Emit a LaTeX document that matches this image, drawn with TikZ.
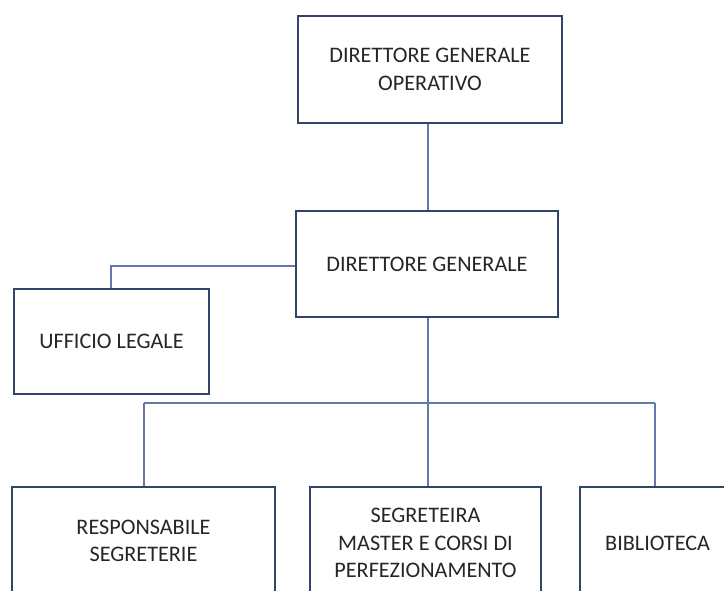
\documentclass[tikz,border=0pt]{standalone}
\usepackage{fontspec}
\setmainfont{Carlito}
\definecolor{boxline}{HTML}{34436A}
\definecolor{conn}{HTML}{6478AC}
\begin{document}
\begin{tikzpicture}[x=1pt,y=-1pt,
  orgbox/.style={draw=boxline,line width=2pt,fill=white,inner sep=0pt,
    font=\fontsize{22.2}{27.5}\selectfont,text=black!85,align=center},
  lbl/.style={font=\fontsize{22.2}{27.5}\selectfont,text=black!85,align=center,inner sep=0pt},
  link/.style={draw=conn,line width=1.3pt}]
\clip (0,0) rectangle (724,590);
\fill[white] (0,0) rectangle (724,590);
% boxes
\node[orgbox,minimum width=264pt,minimum height=107pt] (dgo) at (430,69.5) {DIRETTORE GENERALE\\OPERATIVO};
\node[orgbox,minimum width=262pt,minimum height=106pt] (dg) at (427,264) {DIRETTORE GENERALE};
\node[orgbox,minimum width=195pt,minimum height=105pt] (ul) at (111.5,341.5) {UFFICIO LEGALE};
\node[orgbox,minimum width=263pt,minimum height=160pt] (rs) at (143.5,567) {};
\node[orgbox,minimum width=231pt,minimum height=160pt] (sm) at (425.5,567) {};
\node[orgbox,minimum width=200pt,minimum height=160pt] (bib) at (680,567) {};
\node[lbl] (rst) at (143.5,541) {RESPONSABILE\\SEGRETERIE};
\node[lbl] (smt) at (425.5,543) {SEGRETEIRA\\MASTER E CORSI DI\\PERFEZIONAMENTO};
\node[lbl,anchor=west] (bibt) at (605,543) {BIBLIOTECA};
% connectors
\coordinate (j1) at (111,266);
\coordinate (barl) at (144,403);
\coordinate (barc) at (428,403);
\coordinate (barr) at (655,403);
\draw[link] (dgo.south -| barc) -- (dg.north -| barc);
\draw[link] (dg.west |- j1) -- (j1) -- (ul.north -| j1);
\draw[link] (dg.south -| barc) -- (barc) -- (sm.north -| barc);
\draw[link] (barl) -- (barr);
\draw[link] (barl) -- (rs.north -| barl);
\draw[link] (barr) -- (bib.north -| barr);
\end{tikzpicture}
\end{document}
